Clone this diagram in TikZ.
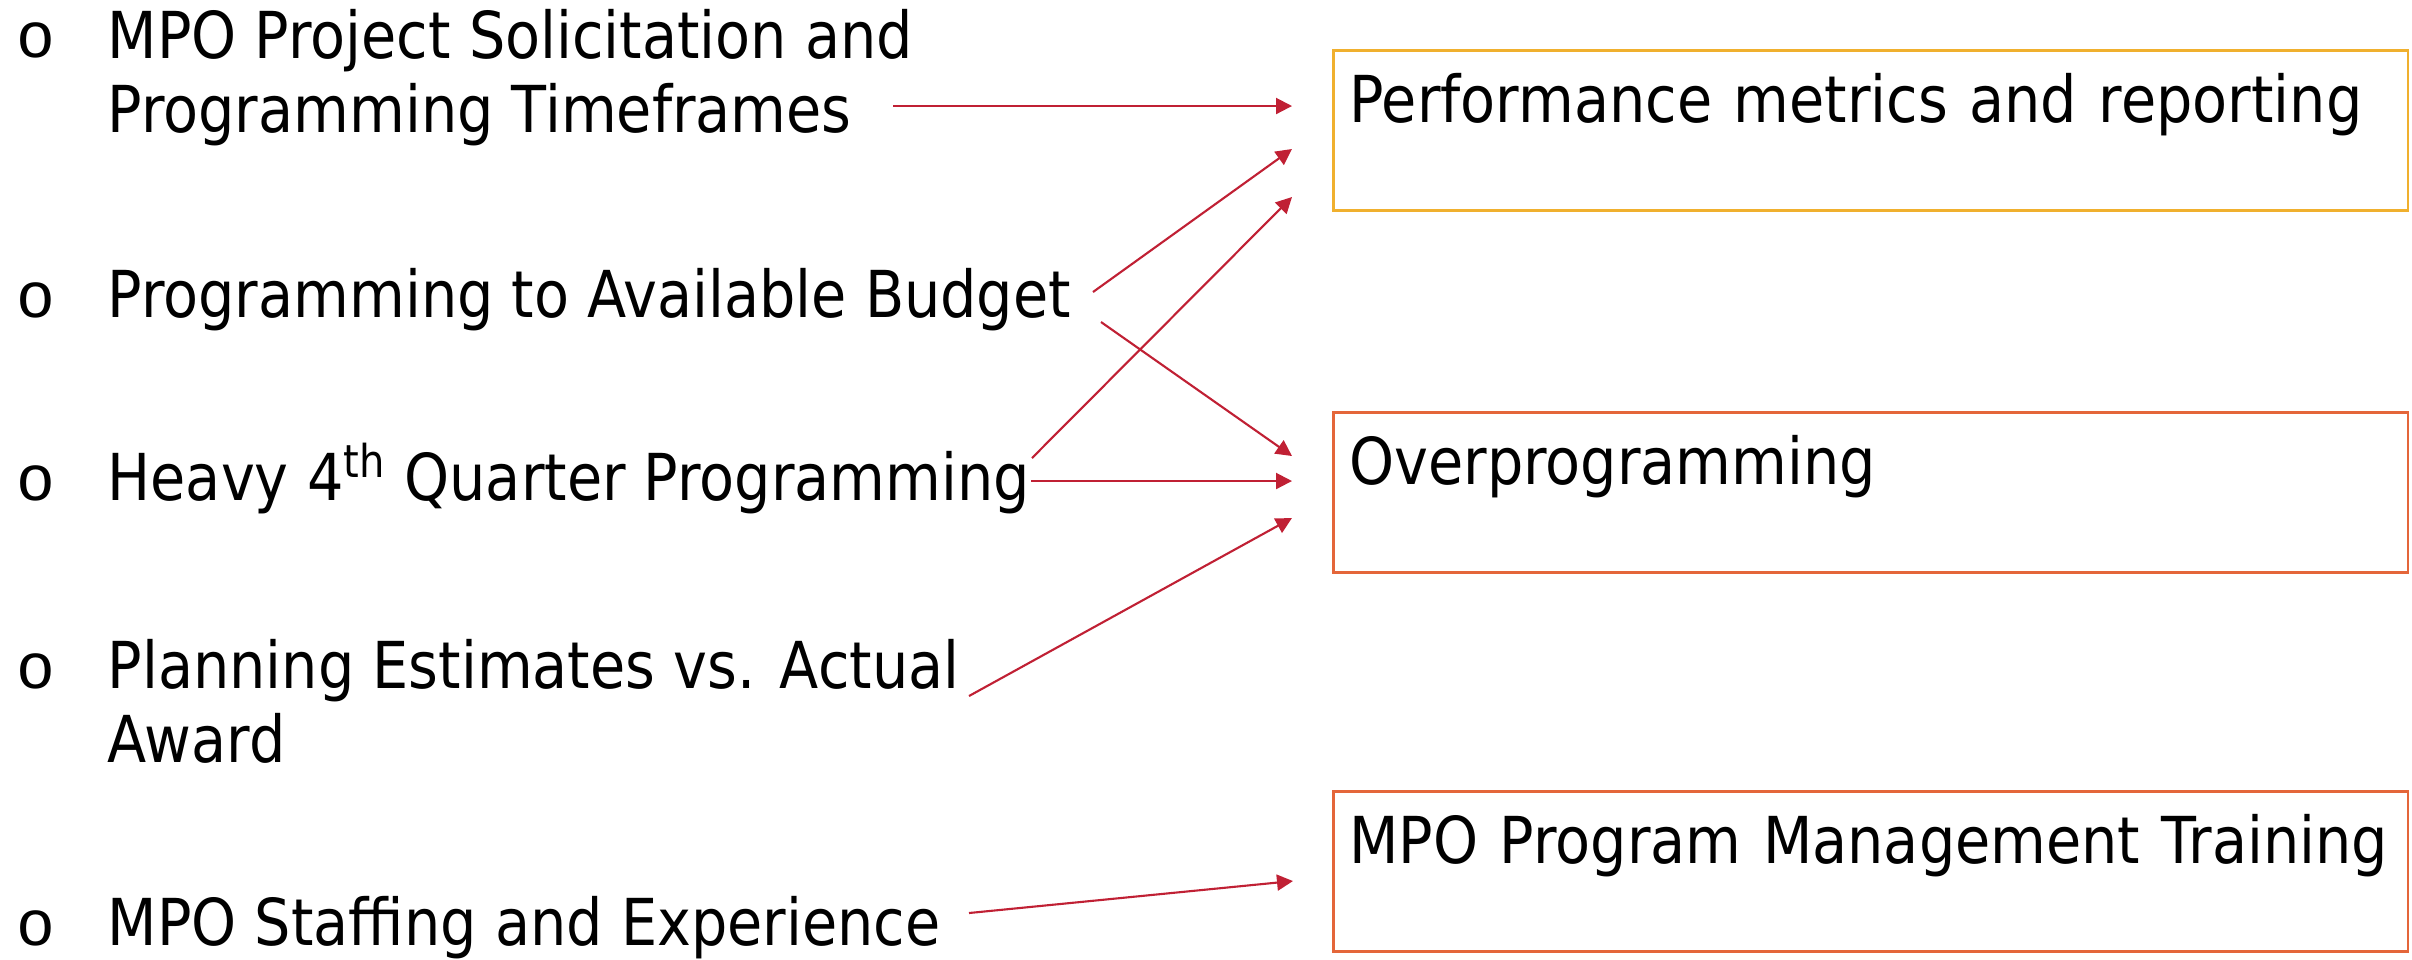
\documentclass[tikz,border=0pt]{standalone}
\usepackage{fontspec}
\setmainfont[FakeStretch=0.885]{DejaVu Sans}
\newfontfamily\bulletfont{Liberation Mono}
\usepackage{xcolor}
\usetikzlibrary{arrows.meta}

\definecolor{linkred}{RGB}{192,32,52}
\definecolor{boxgold}{RGB}{240,176,46}
\definecolor{boxorange}{RGB}{228,102,58}

\begin{document}
\begin{tikzpicture}
	[
	x=0.01cm, y=-0.01cm,
	item/.style={
		anchor=base west,
		align=left,
		inner sep=0pt,
		font=\fontsize{18.4pt}{21pt}\selectfont
	},
	bullet/.style={
		anchor=base west,
		inner sep=0pt,
		font=\bulletfont\fontsize{18.4pt}{21pt}\selectfont
	},
	box/.style={
		draw,
		line width=0.75pt,
		anchor=north west,
		align=left,
		text width=10.42cm,
		text height=0.72cm,
		text depth=0.88cm,
		inner xsep=0.16cm,
		inner ysep=0pt,
		font=\fontsize{18.4pt}{21pt}\selectfont
	},
	arrow/.style={
		-{Triangle[length=0.16cm, width=0.16cm]},
		line width=0.6pt,
		linkred
	}
	]
	
	\useasboundingbox (0,0) rectangle (2412,959);
	
	% Issues on the left (two-line items sit on their last baseline)
	\foreach \y [count=\i] in {57,317,500,688,945}
		\node[bullet] (dot\i) at (16,\y) {o};
	
	\node[item] (solicit) at (107,132)
	{MPO Project Solicitation and\\Programming Timeframes};
	
	\node[item] (budget) at (107,317)
	{Programming to Available Budget};
	
	\node[item] (quarter) at (107,500)
	{Heavy 4\textsuperscript{th} Quarter Programming};
	
	\node[item] (estimate) at (107,762)
	{Planning Estimates vs. Actual\\Award};
	
	\node[item] (staffing) at (107,945)
	{MPO Staffing and Experience};
	
	% Outcomes on the right
	\node[box, draw=boxgold] (perf) at (1332,49)
	{Performance metrics and reporting};
	
	\node[box, draw=boxorange] (overprog) at (1332,411)
	{Overprogramming};
	
	\node[box, draw=boxorange] (training) at (1332,790)
	{MPO Program Management Training};
	
	% Arrow ends
	\coordinate (solicit_out) at (893,106);
	\coordinate (budget_out_up) at (1093,292);
	\coordinate (budget_out_down) at (1101,322);
	\coordinate (quarter_out_up) at (1032,458);
	\coordinate (quarter_out) at (1031,481);
	\coordinate (estimate_out) at (969,696);
	\coordinate (staffing_out) at (969,913);
	
	\coordinate (perf_in_a) at (1292,106);
	\coordinate (perf_in_b) at (1292,149);
	\coordinate (perf_in_c) at (1292,197);
	\coordinate (overprog_in_a) at (1292,456);
	\coordinate (overprog_in_b) at (1292,481);
	\coordinate (overprog_in_c) at (1292,518);
	\coordinate (training_in) at (1293,881);
	
	% Arrows
	\draw[arrow] (solicit_out) -- (perf_in_a);
	\draw[arrow] (budget_out_up) -- (perf_in_b);
	\draw[arrow] (quarter_out_up) -- (perf_in_c);
	
	\draw[arrow] (budget_out_down) -- (overprog_in_a);
	\draw[arrow] (quarter_out) -- (overprog_in_b);
	\draw[arrow] (estimate_out) -- (overprog_in_c);
	
	\draw[arrow] (staffing_out) -- (training_in);
	
\end{tikzpicture}
\end{document}
